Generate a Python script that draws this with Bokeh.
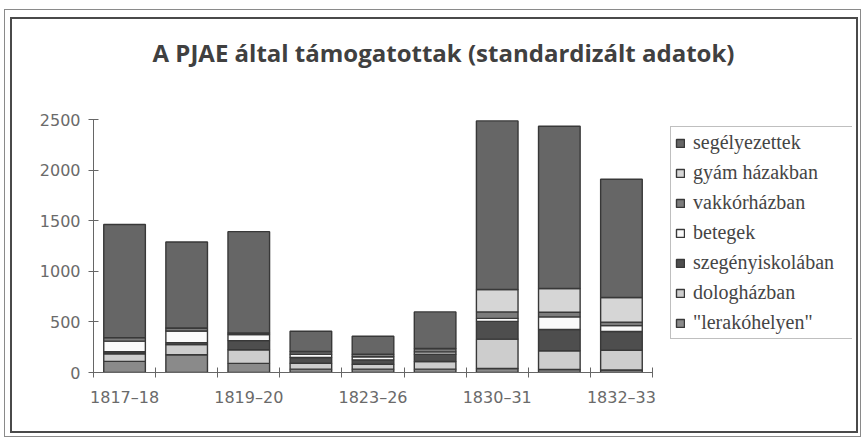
from jinja2 import Template
from bokeh.plotting import figure
from bokeh.models import Range1d, FixedTicker, Legend, LegendItem, Label, ColumnDataSource
from bokeh.embed import file_html
from bokeh.resources import INLINE

# ---- data -------------------------------------------------------------
categories = ["1817–18", "1818–19", "1819–20", "1820–23", "1823–26",
              "1826–30", "1830–31", "1831–32", "1832–33"]
labelled_every = 2

series_names = ["\"lerakóhelyen\"", "dologházban", "szegényiskolában",
                "betegek", "vakkórházban", "gyám házakban", "segélyezettek"]

lerakohelyen     = [110, 175,  90,  33,  33,  33,   40,   30,   25]
dologhazban      = [ 75, 100, 135,  59,  49,  76,  290,  185,  195]
szegenyiskolaban = [ 20,  20,  90,  56,  43,  72,  175,  210,  185]
betegek          = [105, 115,  60,  33,  30,  23,   30,  125,   58]
vakkorhazban     = [ 35,  30,  15,  26,  26,  33,   64,   45,   35]
gyam_hazakban    = [  0,   0,   0,   0,   0,   0,  221,  235,  243]
segelyezettek    = [1118, 850, 1002, 201, 177, 362, 1666, 1604, 1169]

y_max = 2500
y_ticks = [0, 500, 1000, 1500, 2000, 2500]

colors = ["#8a8a8a", "#cdcdcd", "#4e4e4e", "#fafafa", "#7c7c7c", "#d6d6d6", "#666666"]

keys = ["s0", "s1", "s2", "s3", "s4", "s5", "s6"]
source = ColumnDataSource(dict(
    x=list(range(len(categories))),
    s0=lerakohelyen, s1=dologhazban, s2=szegenyiskolaban, s3=betegek,
    s4=vakkorhazban, s5=gyam_hazakban, s6=segelyezettek,
))

# ---- layout (pixels) --------------------------------------------------
W, H = 844, 412
BL, BR, BT, BB = 81, 4, 5, 59          # borders around the drawing frame
AXIS_W, AXIS_H = 559, 253              # size of the value/category area
frame_w, frame_h = W - BL - BR, H - BT - BB
n = len(categories)
x_end = -0.5 + n * frame_w / AXIS_W
y_end = y_max * frame_h / AXIS_H

p = figure(width=W, height=H, output_backend="svg", toolbar_location=None,
           x_range=Range1d(-0.5, x_end), y_range=Range1d(0, y_end),
           min_border_left=BL, min_border_right=BR,
           min_border_top=BT, min_border_bottom=BB)
p.title.visible = False
p.outline_line_color = None
p.xgrid.visible = False
p.ygrid.visible = False
p.background_fill_color = "white"
p.border_fill_color = "white"

renderers = p.vbar_stack(keys, x="x", width=0.67, source=source,
                         fill_color=colors, line_color="#383838", line_width=1.4)

# x axis: labels under every other bar, ticks between bars
xa = p.xaxis[0]
shown = list(range(0, n, labelled_every))
xa.bounds = (-0.5, n - 0.5)
xa.ticker = FixedTicker(ticks=shown, minor_ticks=[i - 0.5 for i in range(n + 1)])
xa.major_label_overrides = {i: categories[i] for i in shown}
xa.major_tick_line_color = None
xa.major_tick_out = 0
xa.major_tick_in = 0
xa.minor_tick_out = 5
xa.minor_tick_in = 5
xa.minor_tick_line_color = "#666666"
xa.axis_line_color = "#666666"
xa.major_label_standoff = 10
xa.major_label_text_font = "DejaVu Sans"
xa.major_label_text_font_size = "16px"
xa.major_label_text_color = "#6a6a6a"

ya = p.yaxis[0]
ya.bounds = (0, y_max)
ya.ticker = FixedTicker(ticks=y_ticks)
ya.minor_tick_line_color = None
ya.major_tick_out = 5
ya.major_tick_in = 5
ya.major_tick_line_color = "#666666"
ya.axis_line_color = "#666666"
ya.major_label_standoff = 8
ya.major_label_text_font = "DejaVu Sans"
ya.major_label_text_font_size = "16px"
ya.major_label_text_color = "#6a6a6a"

# legend (top of stack first)
items = [LegendItem(label=series_names[i], renderers=[renderers[i]])
         for i in reversed(range(len(series_names)))]
legend = Legend(items=items, location=(577, 33),
                label_text_font="Liberation Serif", label_text_font_size="20px",
                label_text_color="#454545",
                glyph_width=10, glyph_height=10, label_standoff=8,
                label_height=20, label_width=158, spacing=7, padding=4, margin=0,
                border_line_color="#808080", border_line_width=1,
                background_fill_color="white", background_fill_alpha=1)
p.add_layout(legend)

title = Label(x=350, y=320, x_units="screen", y_units="screen",
              text="A PJAE által támogatottak (standardizált adatok)",
              text_align="center", text_baseline="middle",
              text_font="Open Sans", text_font_style="bold",
              text_font_size="24px", text_color="#404040")
p.add_layout(title)

page = Template("""<!DOCTYPE html>
<html lang="hu">
<head>
<meta charset="utf-8">
<title>{{ title }}</title>
{{ bokeh_css }}
{{ bokeh_js }}
<style>html, body { margin: 0; padding: 0; background: white; }</style>
</head>
<body>
<div style="position:absolute; left:4px; top:9px; width:855px; height:426px; border:1px solid #8a8a8a;"></div>
<div style="position:absolute; left:10px; top:17px; border:2px solid #4a4a4a; line-height:0;">
{{ plot_div }}
</div>
{{ plot_script }}
</body>
</html>""")

open("out.html", "w").write(file_html(p, INLINE, title="A PJAE", template=page))
